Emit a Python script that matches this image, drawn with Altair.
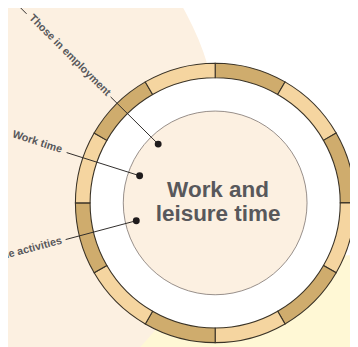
import altair as alt
import pandas as pd

# ---- data -------------------------------------------------------------
# twelve clock-hour segments of the outer ring (starting at 12 o'clock)
seg_hours = [1, 1, 1, 1, 1, 1, 1, 1, 1, 1, 1, 1]
seg_shade = ["dark", "light", "dark", "light", "dark", "light",
             "dark", "light", "dark", "light", "dark", "light"]

title_text = "Work and\nleisure time"

label_text = ["Those in employment", "Work time", "Leisure time activities"]
label_x = [111, 63, 63]
label_y = [92.5, 149.5, 242]
label_angle = [45, 18, 345]

# annotation dots
dot_x = [161.7, 142.7, 139.3]
dot_y = [143.3, 175.7, 221.7]

# leader-line pieces
seg_x1 = [19, 113, 0, 68, 67]
seg_y1 = [2, 95, 128, 152, 241]
seg_x2 = [27, 161.7, 8, 142.7, 139.3]
seg_y2 = [10, 143.3, 132, 175.7, 221.7]

# geometry (page pixels)
CX, CY = 220, 203.5
R_OUT, R_IN, R_CORE = 143, 128, 94
beige_c = (-68, 148, 293)
yellow_c = (358, 620, 363)

# ---- scales -------------------------------------------------------------
xs = alt.Scale(domain=[8, 358], range=[0, 350], nice=False, zero=False)
ys = alt.Scale(domain=[8, 347], range=[0, 339], nice=False, zero=False)


def X(f):
    return alt.X(f, type="quantitative", scale=xs, axis=None)


def Y(f):
    return alt.Y(f, type="quantitative", scale=ys, axis=None)


FONT = "Liberation Sans, Arial, sans-serif"
TXT = "#58585b"

discs = pd.DataFrame({
    "name": ["yellow", "beige", "white", "core"],
    "cx": [yellow_c[0], beige_c[0], CX, CX],
    "cy": [yellow_c[1], beige_c[1], CY, CY],
    "r": [yellow_c[2], beige_c[2], R_IN, R_CORE],
})


def disc(name, fill, stroke=None, sw=0):
    kw = dict(theta=0, theta2=6.2832, fill=fill)
    if stroke:
        kw.update(stroke=stroke, strokeWidth=sw)
    return alt.Chart(discs).transform_filter(
        alt.datum.name == name
    ).mark_arc(**kw).encode(
        x=X("cx"), y=Y("cy"), radius=alt.Radius("r:Q", scale=None)
    )


ring_df = pd.DataFrame({
    "idx": list(range(12)), "hours": seg_hours, "shade": seg_shade,
    "cx": [CX] * 12, "cy": [CY] * 12,
})

ring = alt.Chart(ring_df).mark_arc(
    radius=R_OUT, radius2=R_IN, stroke="#3a3327", strokeWidth=1.1
).encode(
    x=X("cx"), y=Y("cy"),
    theta=alt.Theta("hours:Q", stack=True),
    order=alt.Order("idx:Q"),
    color=alt.Color("shade:N", legend=None,
                    scale=alt.Scale(domain=["dark", "light"],
                                    range=["#cfac6d", "#f5d5a0"])),
)

seg_df = pd.DataFrame({"x1": seg_x1, "y1": seg_y1, "x2": seg_x2, "y2": seg_y2})
rules = alt.Chart(seg_df).mark_rule(color="#2d2a28", strokeWidth=1).encode(
    x=X("x1"), y=Y("y1"), x2="x2", y2="y2"
)

dot_df = pd.DataFrame({"x": dot_x, "y": dot_y})
dots = alt.Chart(dot_df).mark_circle(size=50, color="#1f1b1c", opacity=1).encode(
    x=X("x"), y=Y("y")
)

lab_df = pd.DataFrame({"t": label_text, "x": label_x, "y": label_y, "a": label_angle})
labels = alt.Chart(lab_df).mark_text(
    align="right", baseline="middle", font=FONT, fontSize=11,
    fontWeight="bold", color=TXT
).encode(
    x=X("x"), y=Y("y"), text="t:N", angle=alt.Angle("a:Q", scale=None)
)

title_df = pd.DataFrame({"t": [title_text], "x": [CX + 3], "y": [CY - 13]})
title = alt.Chart(title_df).mark_text(
    align="center", baseline="middle", font=FONT, fontSize=23,
    fontWeight="bold", color=TXT, lineBreak="\n", lineHeight=25
).encode(x=X("x"), y=Y("y"), text="t:N")

chart = alt.layer(
    disc("yellow", "#fff8d5"),
    disc("beige", "#fcf0e1"),
    disc("white", "#ffffff"),
    disc("core", "#fcf0e1", "#8a817c", 0.9),
    ring, rules, dots, labels, title,
).properties(
    width=350, height=339,
    autosize=alt.AutoSizeParams(type="none"),
    padding=0,
    background="#ffffff",
).configure_view(stroke=None)

chart.save("out.html", embed_options={"renderer": "svg", "actions": False})
